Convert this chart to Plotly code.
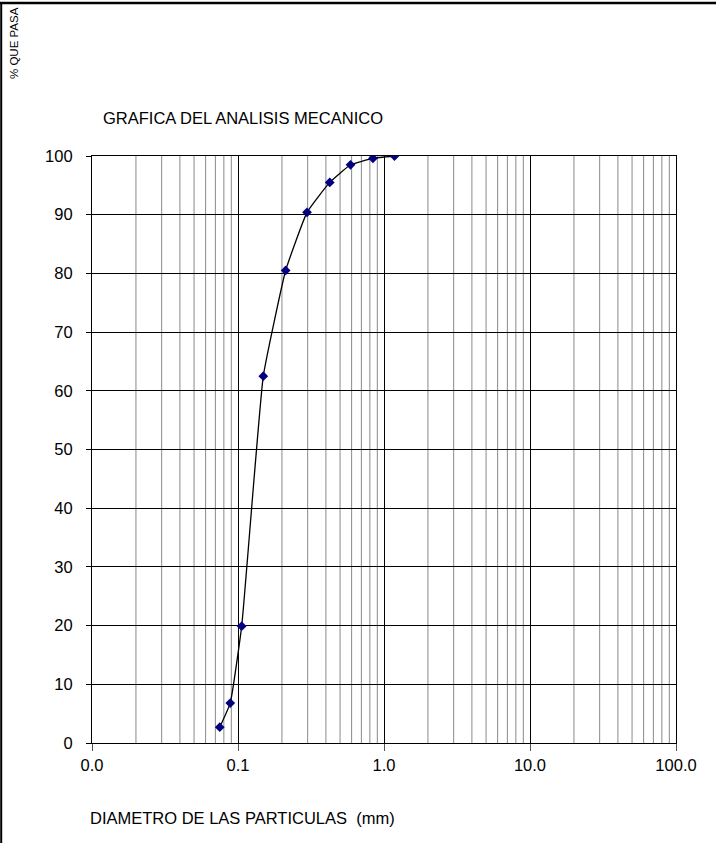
import plotly.graph_objects as go

diametro_mm = [0.075, 0.0885, 0.106, 0.149, 0.212, 0.297, 0.425, 0.59, 0.84, 1.18]
pct_pasa = [2.7, 6.8, 19.9, 62.5, 80.5, 90.4, 95.5, 98.5, 99.6, 100.0]

x_tick_vals = [0.01, 0.1, 1, 10, 100]
x_tick_text = ["0.0", "0.1", "1.0", "10.0", "100.0"]
y_tick_vals = [0, 10, 20, 30, 40, 50, 60, 70, 80, 90, 100]
minor_grid_vals = [m * d for d in [0.01, 0.1, 1, 10] for m in range(2, 10)]

W, H = 716, 843
L, R, T, B = 92, 40, 156, 100
pw, ph = W - L - R, H - T - B

FF = "Liberation Sans, Arial, sans-serif"
font = dict(family=FF, size=16.5, color="black")

fig = go.Figure()

# minor vertical grid
for v in minor_grid_vals:
    fig.add_shape(type="line", xref="x", yref="paper", x0=v, x1=v, y0=0, y1=1,
                  line=dict(color="#8a8a8a", width=1), layer="below")

fig.add_trace(go.Scatter(
    x=diametro_mm, y=pct_pasa, mode="lines+markers",
    line=dict(color="black", width=1.3, shape="spline", smoothing=0.35),
    marker=dict(symbol="diamond", size=7.5, color="#000080"),
    showlegend=False, hoverinfo="x+y"))

fig.update_layout(
    width=W, height=H,
    margin=dict(l=L, r=R, t=T, b=B, autoexpand=False),
    paper_bgcolor="white", plot_bgcolor="white",
    font=font,
    xaxis=dict(type="log", range=[-2, 2], tickvals=x_tick_vals, ticktext=x_tick_text,
               ticks="outside", ticklen=7, tickcolor="#555", tickwidth=1,
               showgrid=True, gridcolor="black", gridwidth=1,
               showline=True, linecolor="black", linewidth=1.2, mirror=True,
               zeroline=False, tickfont=font, automargin=False),
    yaxis=dict(range=[0, 100], tickvals=y_tick_vals, ticks="outside", ticklen=5,
               tickcolor="black", showgrid=True, gridcolor="black", gridwidth=1,
               showline=True, linecolor="black", linewidth=1.2, mirror=True,
               zeroline=False, tickfont=font, ticklabelstandoff=10, automargin=False),
)

# figure frame (top and left)
fig.add_shape(type="line", xref="paper", yref="paper",
              x0=-L / pw, x1=(W - L) / pw, y0=(H - B - 3) / ph, y1=(H - B - 3) / ph,
              line=dict(color="black", width=2.5))
fig.add_shape(type="line", xref="paper", yref="paper",
              x0=(1.2 - L) / pw, x1=(1.2 - L) / pw, y0=(H - B - 3) / ph, y1=-B / ph,
              line=dict(color="black", width=2))

fig.add_annotation(text="GRAFICA DEL ANALISIS MECANICO", xref="paper", yref="paper",
                   x=(101 - L) / pw, y=(H - B - 118) / ph, xanchor="left", yanchor="middle",
                   showarrow=False, font=font)
fig.add_annotation(text="DIAMETRO DE LAS PARTICULAS  (mm)", xref="paper", yref="paper",
                   x=(88 - L) / pw, y=-(818 - (H - B)) / ph, xanchor="left", yanchor="middle",
                   showarrow=False, font=font)
fig.add_annotation(text="% QUE PASA", xref="paper", yref="paper", textangle=-90,
                   x=(14 - L) / pw, y=(H - B - 5) / ph, xanchor="center", yanchor="top",
                   showarrow=False, font=dict(family=FF, size=11.5, color="black"))

fig.write_html("out.html", config={"displayModeBar": False},
               post_script="document.body.style.margin='0';document.body.style.overflow='hidden';")
